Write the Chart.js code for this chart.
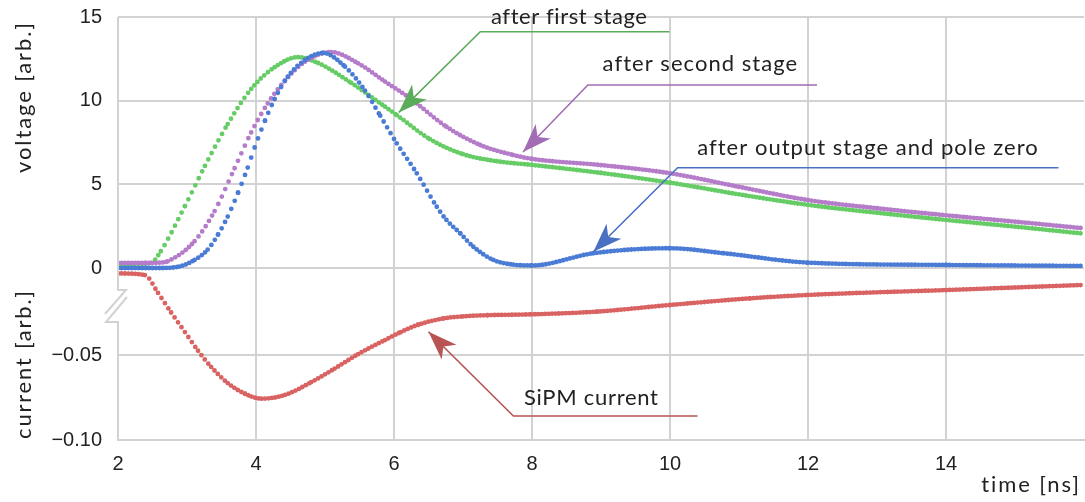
<!DOCTYPE html>
<html>
<head>
<meta charset="utf-8">
<script src="https://cdn.jsdelivr.net/npm/chart.js@4.4.1/dist/chart.umd.min.js"></script>
<style>
  html, body { margin: 0; padding: 0; background: #fff; }
  #wrap { width: 1085px; height: 502px; }
</style>
</head>
<body>
<div id="wrap"><canvas id="grafico" width="1085" height="502"></canvas></div>
<script>
// valores (tempo em ns)
const tempoVerde = [2.0, 2.3, 2.48, 2.62, 2.97, 3.26, 3.59, 3.93, 4.27, 4.61, 4.9, 5.38, 5.87, 6.04, 6.52, 7.0, 7.49, 8.0, 9.0, 10.0, 11.0, 12.0, 13.0, 14.0, 15.0, 16.0]
const primeiroEstagio = [0.25, 0.25, 0.3, 1.0, 3.7, 6.1, 8.6, 10.7, 12.0, 12.6, 12.25, 11.06, 9.64, 9.14, 7.7, 6.8, 6.38, 6.16, 5.68, 5.1, 4.4, 3.77, 3.3, 2.87, 2.47, 2.05]

const tempoRoxo = [2.0, 2.4, 2.6, 2.72, 3.11, 3.4, 3.69, 3.93, 4.17, 4.42, 4.71, 5.09, 5.48, 5.87, 6.23, 6.76, 7.25, 7.73, 8.0, 9.0, 10.0, 11.0, 12.0, 13.0, 14.0, 15.0, 16.0]
const segundoEstagio = [0.3, 0.3, 0.32, 0.4, 1.6, 3.4, 5.96, 8.1, 9.84, 11.2, 12.33, 12.9, 12.23, 11.14, 10.15, 8.44, 7.35, 6.75, 6.52, 6.15, 5.66, 4.85, 4.06, 3.57, 3.15, 2.77, 2.37]

const tempoAzul = [2.0, 2.6, 2.88, 3.11, 3.3, 3.45, 3.59, 3.74, 3.88, 3.98, 4.13, 4.27, 4.46, 4.71, 4.97, 5.29, 5.58, 5.8, 6.04, 6.33, 6.62, 6.76, 6.96, 7.15, 7.44, 7.73, 8.0, 8.89, 10.0, 10.78, 12.0, 14.0, 16.0]
const estagioSaida = [0.0, 0.0, 0.08, 0.48, 1.1, 2.0, 3.07, 4.5, 6.0, 7.2, 8.8, 10.1, 11.43, 12.43, 12.85, 12.03, 10.6, 9.1, 7.45, 5.66, 3.66, 2.87, 2.07, 1.27, 0.48, 0.2, 0.15, 0.88, 1.18, 0.88, 0.32, 0.18, 0.12]

const tempoVermelho = [2.0, 2.39, 2.58, 2.77, 2.97, 3.16, 3.35, 3.59, 3.84, 4.08, 4.42, 4.8, 5.14, 5.48, 5.87, 6.1, 6.35, 6.72, 7.0, 7.36, 7.99, 8.94, 10.0, 11.16, 12.0, 14.0, 16.0]
const correnteSipm = [-0.002, -0.003, -0.0135, -0.025, -0.0365, -0.0475, -0.057, -0.0665, -0.0728, -0.0757, -0.0735, -0.066, -0.058, -0.0495, -0.0412, -0.0365, -0.0322, -0.0285, -0.0273, -0.0266, -0.0261, -0.0245, -0.0206, -0.0167, -0.0147, -0.0118, -0.0088]

const ticksTempo = [2, 4, 6, 8, 10, 12, 14]
const ticksTensao = [0, 5, 10, 15]
const ticksCorrente = [-0.1, -0.05]

// setas de anotacao: texto, ponta, cotovelo, fim da linha (em unidades dos eixos)
const anotacoes = [
  { texto: "after first stage", eixo: "yv", cor: "#5aab5a", ponta: [6.07, 9.3], cotovelo: [7.25, 14.12], fim: [9.99, 14.12], txt: [8.54, 15.0], larg: 155 },
  { texto: "after second stage", eixo: "yv", cor: "#a26cb4", ponta: [7.87, 6.93], cotovelo: [8.81, 10.94], fim: [12.13, 10.94], txt: [10.44, 12.19], larg: 194 },
  { texto: "after output stage and pole zero", eixo: "yv", cor: "#4a70c4", ponta: [8.89, 0.97], cotovelo: [10.11, 5.99], fim: [15.63, 5.99], txt: [12.87, 7.17], larg: 340 },
  { texto: "SiPM current", eixo: "yc", cor: "#b85454", ponta: [6.5, -0.0363], cotovelo: [7.73, -0.0859], fim: [10.4, -0.0859], txt: [8.86, -0.075], larg: 134 }
]

const pontos = (ts, vs) => ts.map((t, i) => ({ x: t, y: vs[i] }))
const corGrade = "#d2d2d2"
const fonteTicks = { family: "'Liberation Sans', Arial", size: 20 }

// texto com espacamento ajustado para ocupar a largura pedida
function textoLargo(ctx, txt, x, y, largura) {
  ctx.letterSpacing = "0px"
  const w = ctx.measureText(txt).width
  const esp = (largura - w) / Math.max(1, txt.length - 1)
  ctx.letterSpacing = esp.toFixed(2) + "px"
  ctx.fillText(txt, x, y)
  ctx.letterSpacing = "0px"
}

function seta(ctx, x0, y0, x1, y1, cor) {
  const ang = Math.atan2(y1 - y0, x1 - x0)
  const L = 29, W = 10.5, N = 21
  const c = Math.cos(ang), s = Math.sin(ang)
  ctx.fillStyle = cor
  ctx.beginPath()
  ctx.moveTo(x1, y1)
  ctx.lineTo(x1 - L * c - W * s, y1 - L * s + W * c)
  ctx.lineTo(x1 - N * c, y1 - N * s)
  ctx.lineTo(x1 - L * c + W * s, y1 - L * s - W * c)
  ctx.closePath()
  ctx.fill()
}

const extras = {
  id: "extras",
  afterDraw(chart) {
    const ctx = chart.ctx
    const x = chart.scales.x
    const yc = chart.scales.yc
    const area = chart.chartArea
    ctx.save()

    // eixo esquerdo com quebra
    ctx.strokeStyle = corGrade
    ctx.lineWidth = 2
    ctx.beginPath()
    ctx.moveTo(area.left, area.top)
    ctx.lineTo(area.left, 290)
    ctx.lineTo(area.left + 8, 290)
    ctx.lineTo(area.left - 13, 314)
    ctx.moveTo(area.left + 9, 297)
    ctx.lineTo(area.left - 12, 322)
    ctx.lineTo(area.left, 322)
    ctx.lineTo(area.left, area.bottom)
    ctx.stroke()

    // rotulos do eixo de corrente
    ctx.fillStyle = "#222"
    ctx.font = "20px 'Liberation Sans', Arial"
    ctx.textAlign = "right"
    ctx.textBaseline = "middle"
    ticksCorrente.forEach((v) => {
      const txt = (v < 0 ? "\u2212" : "") + Math.abs(v).toFixed(2)
      ctx.fillText(txt, area.left - 16, yc.getPixelForValue(v))
    })

    // titulos dos eixos
    ctx.font = "22px Lato"
    ctx.textAlign = "center"
    const rot = (txt, px, py, larg) => {
      ctx.save()
      ctx.translate(px, py)
      ctx.rotate(-Math.PI / 2)
      textoLargo(ctx, txt, 0, 0, larg)
      ctx.restore()
    }
    rot("voltage [arb.]", 24, 97, 150)
    rot("current [arb.]", 24, 364, 148)
    textoLargo(ctx, "time [ns]", 1031, 485, 98)

    // anotacoes
    anotacoes.forEach((a) => {
      const y = chart.scales[a.eixo]
      const px = (p) => [x.getPixelForValue(p[0]), y.getPixelForValue(p[1])]
      const [tx, ty] = px(a.ponta)
      const [cx, cy] = px(a.cotovelo)
      const [fx, fy] = px(a.fim)
      ctx.strokeStyle = a.cor
      ctx.lineWidth = 1.6
      ctx.beginPath()
      ctx.moveTo(fx, fy)
      ctx.lineTo(cx, cy)
      ctx.lineTo(tx, ty)
      ctx.stroke()
      seta(ctx, cx, cy, tx, ty, a.cor)
      const [lx, ly] = px(a.txt)
      ctx.fillStyle = "#222"
      ctx.font = "22px Lato"
      ctx.textAlign = "center"
      ctx.textBaseline = "middle"
      textoLargo(ctx, a.texto, lx, ly, a.larg)
    })
    ctx.restore()
  }
}

// pontos amostrados: espaco entre bolinhas cresce onde a curva e ingreme
const pontilhado = (c) => {
  const dx = c.p1.x - c.p0.x
  const dy = c.p1.y - c.p0.y
  const s = dx ? dy / dx : 0
  return [0, 3.45 * Math.sqrt(1 + s * s)]
}

const semPadding = (s) => { s.paddingTop = 0; s.paddingBottom = 0; s.paddingLeft = 0; s.paddingRight = 0 }

new Chart(document.getElementById("grafico"), {
  type: "line",
  data: {
    datasets: [
      { label: "after first stage", data: pontos(tempoVerde, primeiroEstagio), borderColor: "#66cc66", yAxisID: "yv", order: 3 },
      { label: "after second stage", data: pontos(tempoRoxo, segundoEstagio), borderColor: "#b57cc9", yAxisID: "yv", order: 2 },
      { label: "after output stage and pole zero", data: pontos(tempoAzul, estagioSaida), borderColor: "#4a7bd5", yAxisID: "yv", order: 1 },
      { label: "SiPM current", data: pontos(tempoVermelho, correnteSipm), borderColor: "#d96262", yAxisID: "yc", order: 4 }
    ].map((d) => Object.assign(d, {
      borderWidth: 4.8,
      borderCapStyle: "round",
      pointRadius: 0,
      cubicInterpolationMode: "monotone",
      fill: false,
      segment: { borderDash: pontilhado }
    }))
  },
  options: {
    responsive: false,
    animation: false,
    devicePixelRatio: 1,
    layout: { padding: { top: 17, right: 1, left: 0, bottom: 0 } },
    plugins: { legend: { display: false }, tooltip: { enabled: false } },
    scales: {
      x: {
        type: "linear",
        min: 2,
        max: 16,
        afterBuildTicks: (s) => { s.ticks = ticksTempo.concat([16]).map((v) => ({ value: v })) },
        afterFit: (s) => { s.height = 62; semPadding(s) },
        ticks: { font: fonteTicks, color: "#222", padding: 12, maxRotation: 0, callback: (v) => (v === 16 ? "" : v) },
        grid: { color: (c) => (c.tick && (c.tick.value === 2 || c.tick.value === 16) ? "transparent" : corGrade), lineWidth: 2, drawTicks: false },
        border: { display: true, color: corGrade, width: 2 }
      },
      yv: {
        type: "linear",
        position: "left",
        weight: 0,
        min: -10.28,
        max: 15,
        afterBuildTicks: (s) => { s.ticks = ticksTensao.map((v) => ({ value: v })) },
        afterFit: (s) => { s.width = 118; semPadding(s) },
        ticks: { font: fonteTicks, color: "#222", padding: 16 },
        grid: { color: corGrade, lineWidth: 2, drawTicks: false },
        border: { display: false }
      },
      yc: {
        type: "linear",
        position: "left",
        weight: 10,
        min: -0.1,
        max: 0.1488,
        afterBuildTicks: (s) => { s.ticks = ticksCorrente.map((v) => ({ value: v })) },
        afterFit: (s) => { s.width = 0; semPadding(s) },
        ticks: { display: false },
        grid: { color: corGrade, lineWidth: 2, drawTicks: false },
        border: { display: false }
      }
    }
  },
  plugins: [extras]
})
</script>
</body>
</html>
